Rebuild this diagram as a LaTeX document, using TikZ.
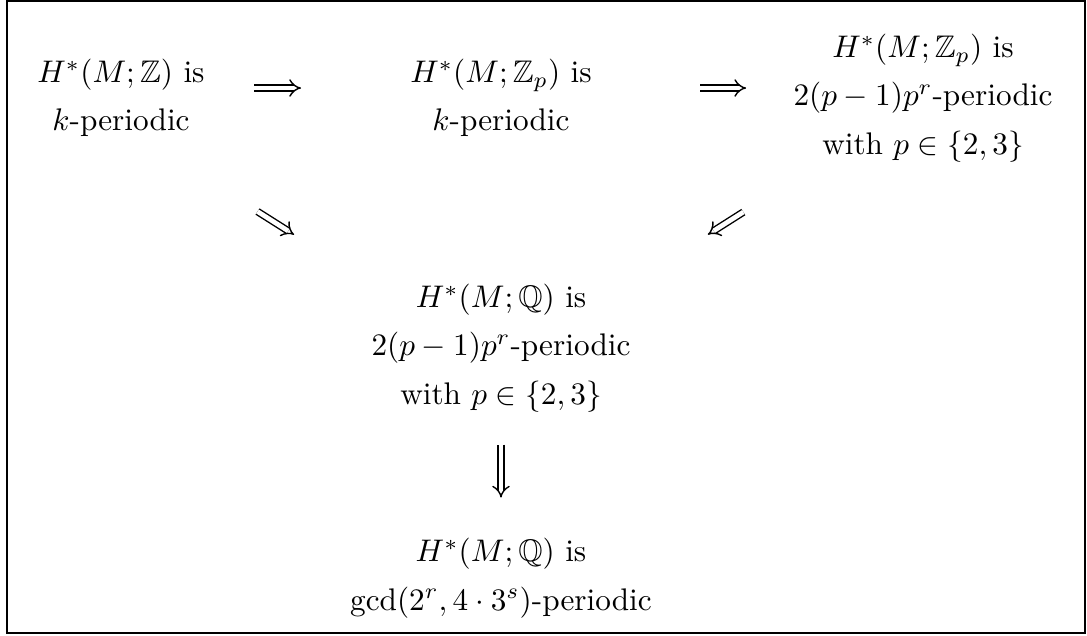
\documentclass[tikz,border=0pt]{standalone}
\usepackage{amsmath}
\usepackage{amssymb}
\usetikzlibrary{arrows.meta,calc}

\tikzset{
  stmt/.style={align=center, inner sep=0pt, font=\fontsize{10}{15.5}\selectfont},
  imp/.style={double, double distance=1.5pt, line width=0.45pt, -{Implies[scale=1.3]}},
}

\begin{document}
\begin{tikzpicture}[x=0.32pt, y=-0.32pt]
  \useasboundingbox (0,0) rectangle (1087,635);

  % ---------- frame ----------
  \draw[line width=0.5pt] (7,1) rectangle (1085,633);

  % ---------- top row: integral and mod p statements ----------
  \node[stmt] (zk)   at (121,98) {$H^*(M;\mathbb{Z})$ is\\$k$-periodic};
  \node[stmt] (zpk)  at (501,98) {$H^*(M;\mathbb{Z}_p)$ is\\$k$-periodic};
  \node[stmt] (zppr) at (923,98) {$H^*(M;\mathbb{Z}_p)$ is\\$2(p-1)p^r$-periodic\\with $p\in\{2,3\}$};

  % ---------- rational statements ----------
  \node[stmt] (qpr)  at (501,348) {$H^*(M;\mathbb{Q})$ is\\$2(p-1)p^r$-periodic\\with $p\in\{2,3\}$};
  \node[stmt] (qgcd) at (501,578) {$H^*(M;\mathbb{Q})$ is\\$\gcd(2^r,4\cdot 3^s)$-periodic};

  % ---------- implications ----------
  \draw[imp, shorten <=42.6pt, shorten >=64pt]
    ([yshift=3.2pt]zk.center) -- ([yshift=3.2pt]zpk.center);
  \draw[imp, shorten <=63.7pt, shorten >=56.6pt]
    ([yshift=3.2pt]zpk.center) -- ([yshift=3.2pt]zppr.center);
  \draw[imp, shorten <=51.7pt, shorten >=29.1pt] ([yshift=4pt]zk.south) -- (qpr.north west);
  \draw[imp, shorten <=68.1pt, shorten >=29.1pt] (zppr.center) -- (qpr.north east);
  \draw[imp, shorten <=10.2pt, shorten >=12.8pt] (qpr.south) -- (qgcd.north);
\end{tikzpicture}
\end{document}
